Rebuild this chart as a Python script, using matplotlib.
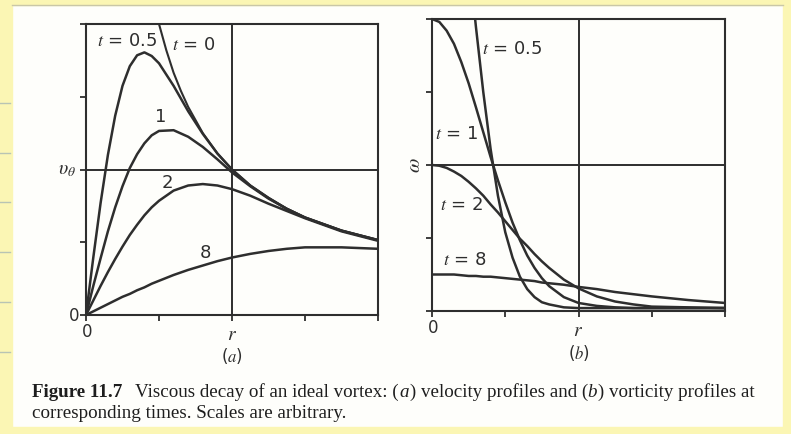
"""
Viscous decay of an ideal vortex: velocity and vorticity profiles
at a few instants, drawn as two framed panels with a book-style caption.
"""

import matplotlib
matplotlib.use("Agg")
import matplotlib.pyplot as plt
from matplotlib.patches import Rectangle
from matplotlib.lines import Line2D

plt.rcParams['font.family'] = 'DejaVu Sans'
plt.rcParams['mathtext.fontset'] = 'stix'

# (a) velocity profiles v_theta(r)
r_v = [0, 0.1, 0.2, 0.3, 0.4, 0.5, 0.6, 0.7, 0.8, 0.9, 1.0, 1.2, 1.4, 1.6,
       1.8, 2.0, 2.25, 2.5, 2.75, 3.0, 3.5, 4.0]
v_t05 = [0, 0.79, 1.54, 2.20, 2.74, 3.15, 3.42, 3.57, 3.61, 3.56, 3.46, 3.15,
         2.80, 2.49, 2.22, 2.00, 1.78, 1.61, 1.46, 1.34, 1.16, 1.03]
v_t1 = [0, 0.40, 0.78, 1.15, 1.48, 1.77, 2.02, 2.21, 2.36, 2.47, 2.53, 2.54,
        2.45, 2.31, 2.14, 1.96, 1.77, 1.60, 1.46, 1.34, 1.16, 1.03]
v_t2 = [0, 0.20, 0.40, 0.59, 0.77, 0.94, 1.10, 1.24, 1.37, 1.48, 1.57, 1.71,
        1.78, 1.80, 1.78, 1.73, 1.64, 1.53, 1.43, 1.33, 1.15, 1.02]
v_t8 = [0, 0.05, 0.10, 0.15, 0.20, 0.25, 0.29, 0.34, 0.38, 0.43, 0.47, 0.55,
        0.62, 0.68, 0.74, 0.79, 0.84, 0.88, 0.91, 0.93, 0.93, 0.91]
# the t = 0 (ideal vortex) curve only exists inside the frame for r >= 1
r_v0 = [1.0, 1.1, 1.2, 1.3, 1.4, 1.6, 1.8, 2.0, 2.25, 2.5, 2.75, 3.0, 3.5, 4.0]
v_t0 = [4.00, 3.64, 3.33, 3.08, 2.86, 2.50, 2.22, 2.00, 1.78, 1.61, 1.46,
        1.34, 1.16, 1.03]

# (b) vorticity profiles omega(r)
r_w = [0, 0.1, 0.2, 0.3, 0.4, 0.5, 0.6, 0.7, 0.8, 0.9, 1.0, 1.1, 1.2, 1.3,
       1.4, 1.5, 1.6, 1.8, 2.0, 2.25, 2.5, 2.75, 3.0, 3.5, 4.0]
w_t05 = [8.00, 7.84, 7.38, 6.68, 5.81, 4.85, 3.89, 3.00, 2.22, 1.58, 1.08,
         0.73, 0.47, 0.30, 0.19, 0.12, 0.09, 0.05, 0.04, 0.04, 0.04, 0.04,
         0.04, 0.04, 0.04]
w_t1 = [4.00, 3.96, 3.84, 3.66, 3.41, 3.12, 2.79, 2.45, 2.11, 1.79, 1.49,
        1.21, 0.97, 0.76, 0.59, 0.45, 0.34, 0.19, 0.11, 0.07, 0.05, 0.04,
        0.04, 0.04, 0.04]
w_t2 = [2.00, 1.99, 1.96, 1.91, 1.85, 1.77, 1.68, 1.58, 1.46, 1.35, 1.23,
        1.11, 0.99, 0.89, 0.78, 0.68, 0.59, 0.43, 0.31, 0.20, 0.13, 0.09,
        0.06, 0.05, 0.04]
w_t8 = [0.50, 0.50, 0.50, 0.50, 0.49, 0.48, 0.48, 0.47, 0.47, 0.46, 0.45,
        0.44, 0.43, 0.42, 0.41, 0.39, 0.38, 0.36, 0.33, 0.30, 0.26, 0.23,
        0.20, 0.15, 0.11]

INK = '#2e2e2e'
PAPER = '#fefefb'
PAD_YELLOW = '#fbf6b4'
LBL = 13


def frame(ax):
    """Square 4x4 frame with a centre cross and outward ticks."""
    ax.set_xlim(0, 4)
    ax.set_ylim(0, 4)
    ax.set_facecolor('none')
    for s in ax.spines.values():
        s.set_linewidth(1.5)
        s.set_color(INK)
    ax.axhline(2, color=INK, lw=1.4, zorder=1)
    ax.axvline(2, color=INK, lw=1.4, zorder=1)
    ax.set_xticks([0, 1, 2, 3, 4])
    ax.set_yticks([0, 1, 2, 3, 4])
    ax.set_xticklabels([])
    ax.set_yticklabels([])
    ax.tick_params(direction='out', length=4, width=1.3, color=INK)


def label(ax, s, xy, off, **kw):
    ax.annotate(s, xy=xy, xycoords='data', xytext=off,
                textcoords='offset pixels', ha='center', va='center',
                color=INK, annotation_clip=False, **kw)


def put_runs(fig, x, y, runs, size):
    """Lay out differently styled text runs one after another."""
    rend = fig.canvas.get_renderer()
    for gap, s, kw in runs:
        x += gap / fig.bbox.width
        t = fig.text(x, y, s, fontsize=size, family='Liberation Serif',
                     va='baseline', color='#1e1e1e', **kw)
        x += t.get_window_extent(renderer=rend).width / fig.bbox.width


fig = plt.figure(figsize=(7.91, 4.34), dpi=100, facecolor=PAPER)

# legal-pad margins around the scanned page
for rect in [(0, 0, 12 / 791, 1), (0, 1 - 5 / 434, 1, 5 / 434),
             (783 / 791, 0, 8 / 791, 1), (0, 0, 1, 7 / 434)]:
    fig.patches.append(Rectangle(rect[:2], rect[2], rect[3],
                                 transform=fig.transFigure, color=PAD_YELLOW,
                                 zorder=-5))
fig.lines.append(Line2D([12 / 791, 783 / 791], [1 - 5 / 434] * 2,
                        transform=fig.transFigure, color='#c9c7a8', lw=1))
for py in [103, 153, 202, 252, 302, 352]:
    fig.lines.append(Line2D([0, 10 / 791], [1 - py / 434] * 2,
                            transform=fig.transFigure, color='#b8c4b4', lw=1))

# (a) velocity
ax1 = fig.add_axes([86 / 791, 1 - 315 / 434, 292 / 791, 291 / 434])
frame(ax1)
for vals in (v_t05, v_t1, v_t2, v_t8):
    ax1.plot(r_v, vals, color=INK, lw=1.8, solid_capstyle='round')
ax1.plot(r_v0, v_t0, color=INK, lw=1.5)

ax1.text(0.56, 3.77, r'$t$ = 0.5', fontsize=LBL, ha='center', va='center', color=INK)
ax1.text(1.47, 3.71, r'$t$ = 0', fontsize=LBL, ha='center', va='center', color=INK)
ax1.text(1.02, 2.72, '1', fontsize=LBL, ha='center', va='center', color=INK)
ax1.text(1.12, 1.82, '2', fontsize=LBL, ha='center', va='center', color=INK)
ax1.text(1.63, 0.85, '8', fontsize=LBL, ha='center', va='center', color=INK)

label(ax1, '0', (0, 0), (1, -17), fontsize=12)
label(ax1, '0', (0, 0), (-12, -1), fontsize=12)
label(ax1, r'$r$', (2, 0), (0, -19), fontsize=14)
label(ax1, r'$\upsilon_\theta$', (0, 2), (-19, 0), fontsize=14)
label(ax1, r'($a$)', (2, 0), (0, -41), fontsize=12)

# (b) vorticity
ax2 = fig.add_axes([432 / 791, 1 - 311 / 434, 293 / 791, 292 / 434])
frame(ax2)
for vals in (w_t05, w_t1, w_t2, w_t8):
    ax2.plot(r_w, vals, color=INK, lw=1.8, solid_capstyle='round')

ax2.text(1.09, 3.59, r'$t$ = 0.5', fontsize=LBL, ha='center', va='center', color=INK)
ax2.text(0.34, 2.42, r'$t$ = 1', fontsize=LBL, ha='center', va='center', color=INK)
ax2.text(0.41, 1.45, r'$t$ = 2', fontsize=LBL, ha='center', va='center', color=INK)
ax2.text(0.45, 0.70, r'$t$ = 8', fontsize=LBL, ha='center', va='center', color=INK)

label(ax2, '0', (0, 0), (1, -17), fontsize=12)
label(ax2, r'$r$', (2, 0), (0, -19), fontsize=14)
label(ax2, r'$\omega$', (0, 2), (-18, 0), fontsize=15, rotation=90)
label(ax2, r'($b$)', (2, 0), (0, -42), fontsize=12)

# caption
line1 = [
    (0, 'Figure 11.7', dict(weight='bold')),
    (13, 'Viscous decay of an ideal vortex: (', {}),
    (0, 'a', dict(style='italic')),
    (1, ') velocity profiles and (', {}),
    (0, 'b', dict(style='italic')),
    (1, ') vorticity profiles at', {}),
]
line2 = [(0, 'corresponding times. Scales are arbitrary.', {})]
put_runs(fig, 32 / 791, 1 - 397 / 434, line1, 13.7)
put_runs(fig, 32 / 791, 1 - 418 / 434, line2, 13.7)

fig.savefig('out.png', dpi=100, facecolor=PAPER)
